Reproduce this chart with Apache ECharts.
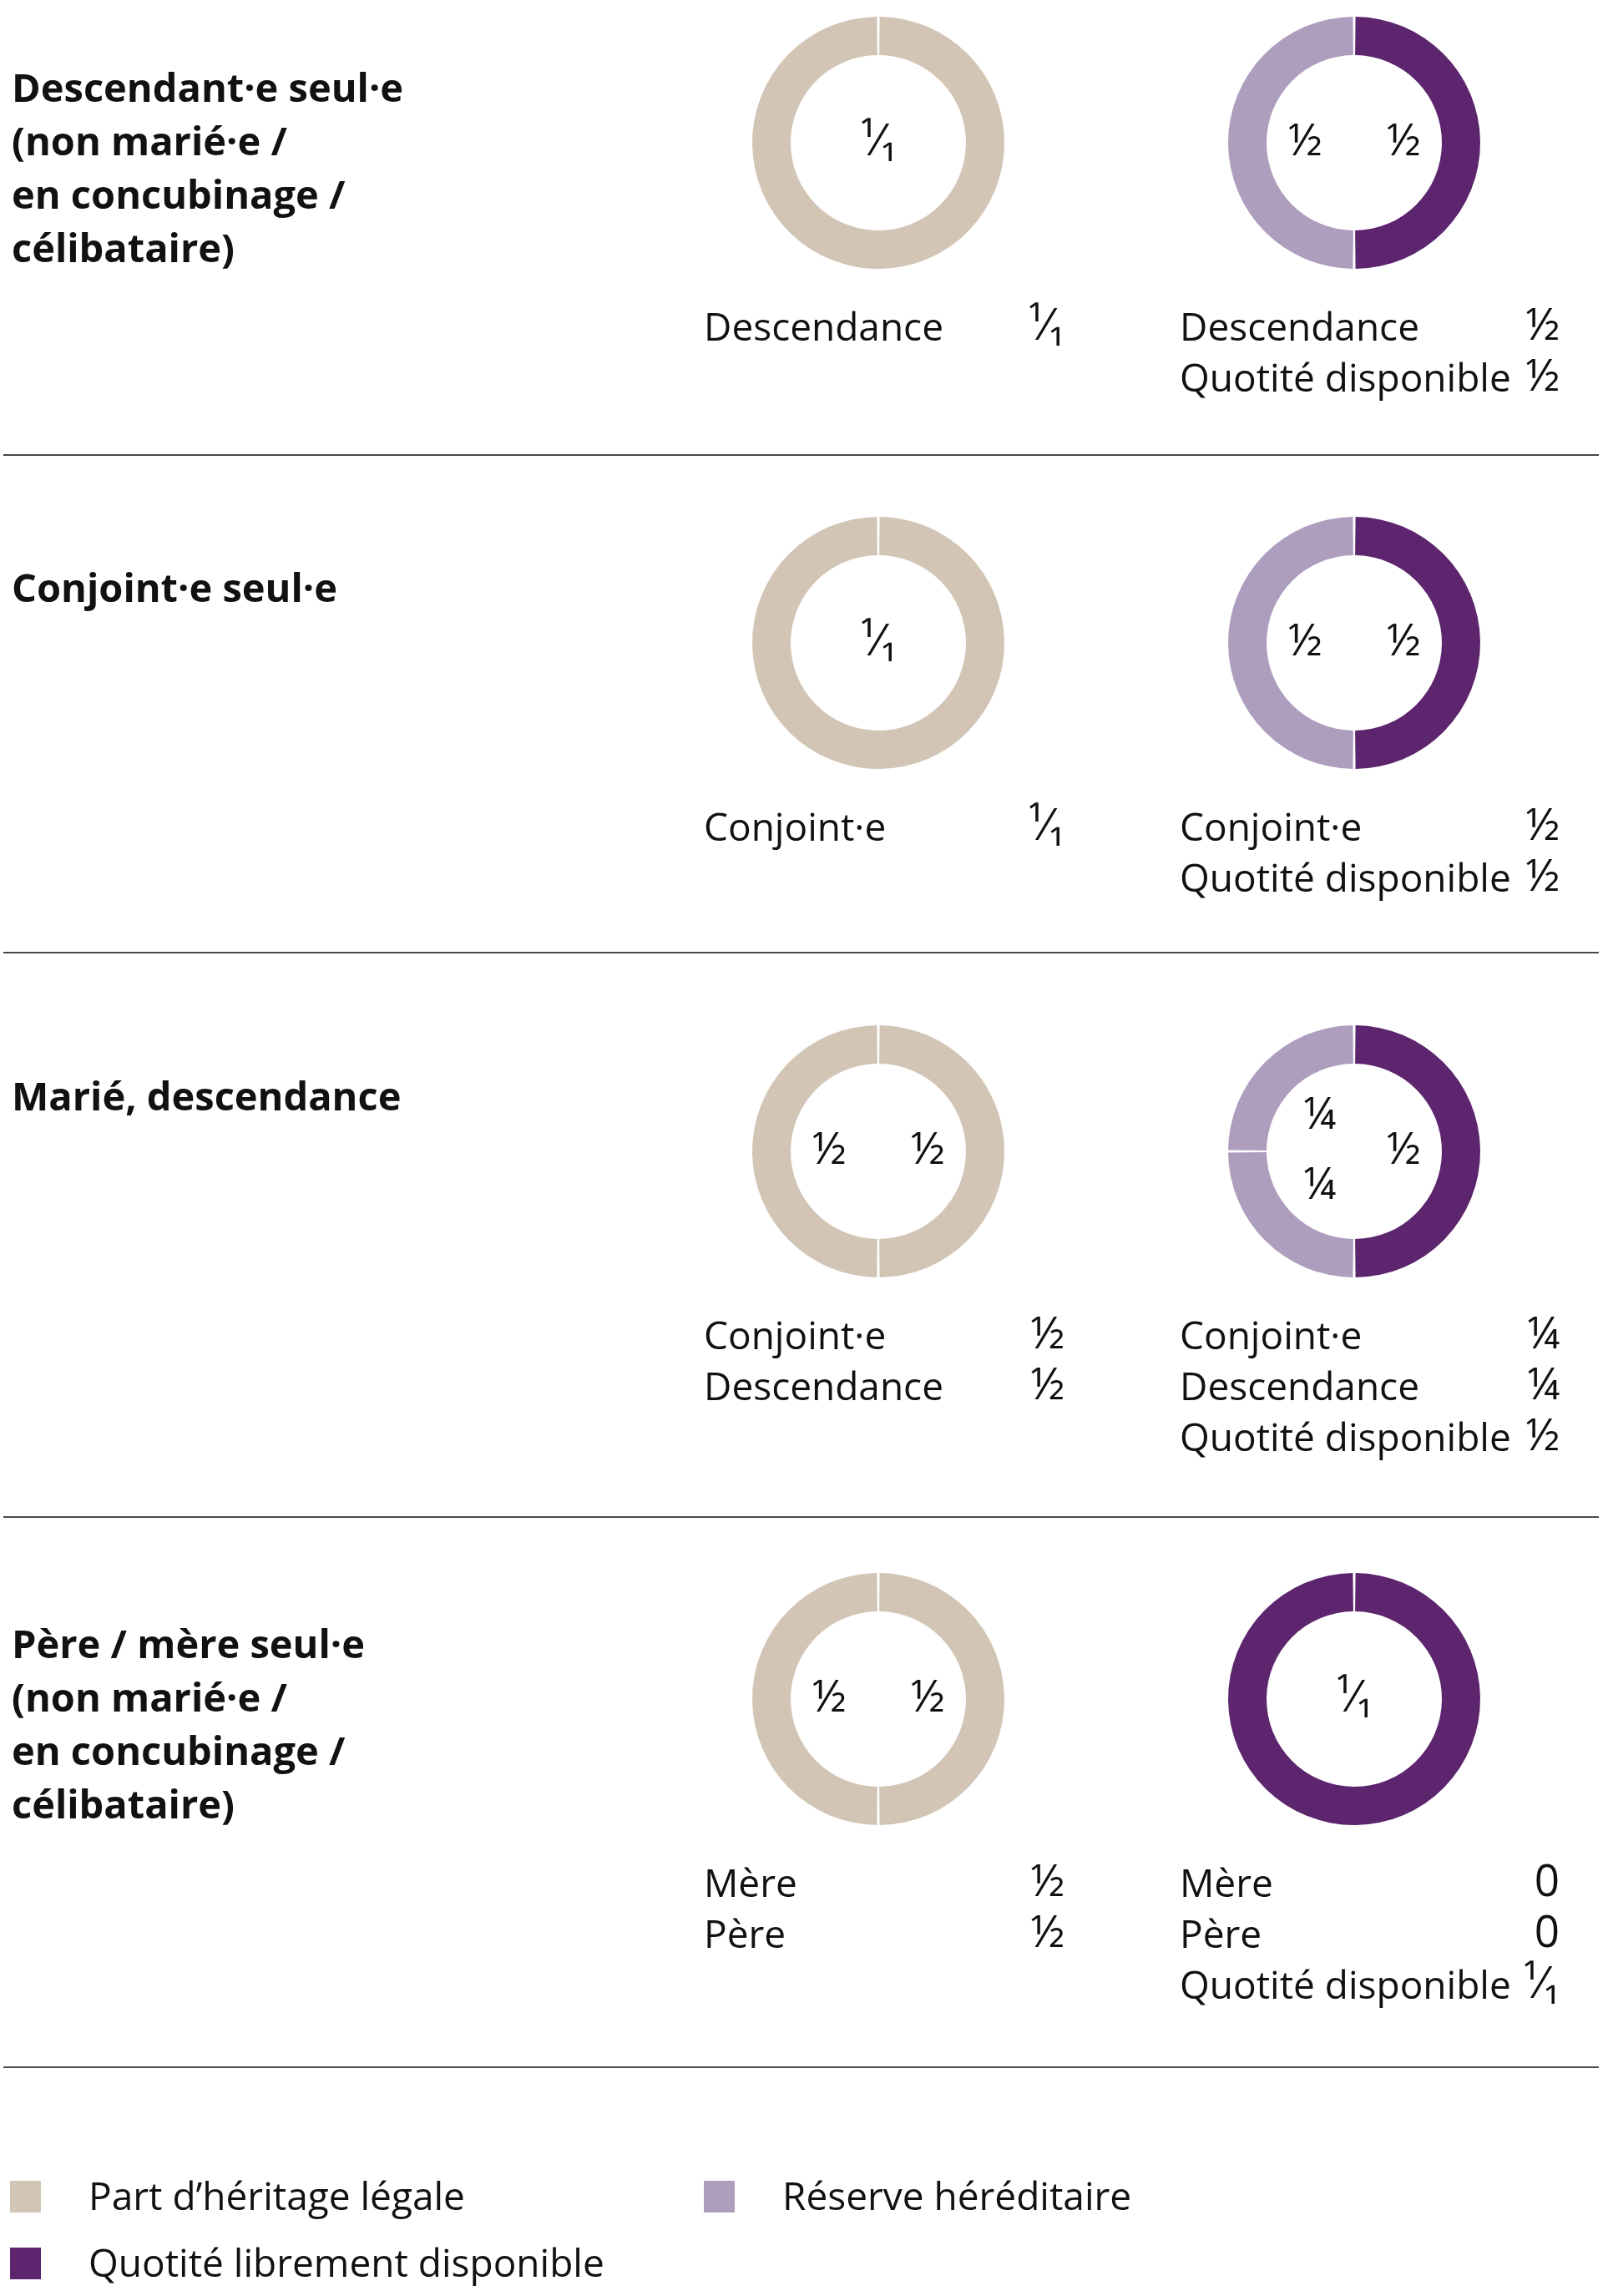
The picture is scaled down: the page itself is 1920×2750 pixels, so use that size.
<!DOCTYPE html>
<html>
<head>
<meta charset="utf-8">
<script src="https://cdn.jsdelivr.net/npm/echarts@6/dist/echarts.min.js"></script>
<style>
html,body{margin:0;padding:0;background:#ffffff;}
#chart{width:1920px;height:2750px;}
</style>
</head>
<body>
<div id="chart"></div>
<script>
// ---------------- DATA ----------------
const scenarioTitles = [
  'Descendant·e seul·e\n(non marié·e /\nen concubinage /\ncélibataire)',
  'Conjoint·e seul·e',
  'Marié, descendance',
  'Père / mère seul·e\n(non marié·e /\nen concubinage /\ncélibataire)'
];
// left donut: legal inheritance shares
const legalNames = [
  ['Descendance'],
  ['Conjoint·e'],
  ['Conjoint·e', 'Descendance'],
  ['Mère', 'Père']
];
const legalValues = [
  [1],
  [1],
  [0.5, 0.5],
  [0.5, 0.5]
];
// right donut: reserved shares + freely disposable quota
const reserveNames = [
  ['Descendance', 'Quotité disponible'],
  ['Conjoint·e', 'Quotité disponible'],
  ['Conjoint·e', 'Descendance', 'Quotité disponible'],
  ['Mère', 'Père', 'Quotité disponible']
];
const reserveValues = [
  [0.5, 0.5],
  [0.5, 0.5],
  [0.25, 0.25, 0.5],
  [0, 0, 1]
];
const freeShareName = 'Quotité disponible';
// value -> displayed fraction label
const fractionValues = [1, 0.5, 0.25, 0];
const fractionLabels = ['¹⁄₁', '½', '¼', '0'];
const legendNames = ['Part d’héritage légale', 'Réserve héréditaire', 'Quotité librement disponible'];

// ---------------- STYLE / LAYOUT ----------------
const FONT = "'Open Sans', 'Noto Sans', 'DejaVu Sans', sans-serif";
const FS = 46;
const FS_FRAC = 53;
const TXT = '#111111';
const C_LEGAL = '#d2c5b5';
const C_RESERVE = '#ae9ebd';
const C_FREE = '#5c256e';
const rowCY = [171, 770, 1379, 2035];
const ruleY = [545, 1141, 1817, 2476];
const colCX = [1052, 1622];
const ringR = [105, 151];
const labelR = [0, 112];
const listNameX = [843, 1413];
const listValueX = [1275, 1868];

function frac(v) {
  const i = fractionValues.indexOf(v);
  return i >= 0 ? fractionLabels[i] : String(v);
}

function ring(cx, cy, names, values, colorOf) {
  const data = [];
  names.forEach((n, i) => {
    if (values[i] > 0) data.push({name: n, value: values[i], itemStyle: {color: colorOf(n)}});
  });
  return {
    type: 'pie', center: [cx, cy], radius: ringR, startAngle: 90, clockwise: false,
    padAngle: 1.2, silent: true, animation: false,
    itemStyle: {borderWidth: 0},
    label: {show: false}, labelLine: {show: false}, emphasis: {disabled: true},
    data: data
  };
}
function labels(cx, cy, names, values) {
  const total = values.reduce((a, b) => a + b, 0);
  return {
    type: 'pie', center: [cx, cy], radius: labelR, startAngle: 90, clockwise: false,
    silent: true, animation: false, emphasis: {disabled: true},
    itemStyle: {color: 'rgba(0,0,0,0)', borderWidth: 0}, labelLine: {show: false},
    label: {show: true, position: 'inside', rotate: 0, formatter: p => frac(p.value),
            fontFamily: FONT, fontSize: FS_FRAC, color: TXT},
    data: names.map((n, i) => ({
      name: n, value: values[i],
      label: values[i] === 0 ? {show: false} : (values[i] === total ? {position: 'center'} : {})
    }))
  };
}

const series = [];
const graphics = [];
for (let r = 0; r < 4; r++) {
  const cy = rowCY[r];
  series.push(ring(colCX[0], cy, legalNames[r], legalValues[r], () => C_LEGAL));
  series.push(labels(colCX[0], cy, legalNames[r], legalValues[r]));
  series.push(ring(colCX[1], cy, reserveNames[r], reserveValues[r], n => n === freeShareName ? C_FREE : C_RESERVE));
  series.push(labels(colCX[1], cy, reserveNames[r], reserveValues[r]));

  // scenario title
  graphics.push({type: 'text', x: 14, y: cy - 94, silent: true,
    style: {text: scenarioTitles[r], font: 'bold 47px ' + FONT, fill: TXT,
            align: 'left', verticalAlign: 'top', lineHeight: 64}});
  // lists under donuts
  const lists = [[legalNames[r], legalValues[r]], [reserveNames[r], reserveValues[r]]];
  lists.forEach((lv, c) => {
    graphics.push({type: 'text', x: listNameX[c], y: cy + 193, silent: true,
      style: {text: lv[0].join('\n'), font: FS + 'px ' + FONT, fill: TXT, align: 'left', verticalAlign: 'top', lineHeight: 61}});
    graphics.push({type: 'text', x: listValueX[c], y: cy + 190, silent: true,
      style: {text: lv[1].map(frac).join('\n'), font: FS_FRAC + 'px ' + FONT, fill: TXT, align: 'right', verticalAlign: 'top', lineHeight: 61}});
  });
  graphics.push({type: 'line', silent: true, shape: {x1: 4, y1: ruleY[r], x2: 1915, y2: ruleY[r]},
    style: {stroke: '#4a4a4a', lineWidth: 2}});
}

// bottom legend
const legendColors = [C_LEGAL, C_RESERVE, C_FREE];
const legendPos = [[12, 2631], [843, 2631], [12, 2711]];
legendNames.forEach((n, i) => {
  const [x, y] = legendPos[i];
  graphics.push({type: 'rect', silent: true, shape: {x: x, y: y - 19, width: 37, height: 38}, style: {fill: legendColors[i]}});
  graphics.push({type: 'text', silent: true, x: x + 94, y: y + 3,
    style: {text: n, font: FS + 'px ' + FONT, fill: TXT, align: 'left', verticalAlign: 'middle'}});
});

const chart = echarts.init(document.getElementById('chart'), null, {renderer: 'canvas'});
chart.setOption({
  backgroundColor: '#ffffff',
  animation: false,
  series: series,
  graphic: {elements: graphics}
});
</script>
</body>
</html>
